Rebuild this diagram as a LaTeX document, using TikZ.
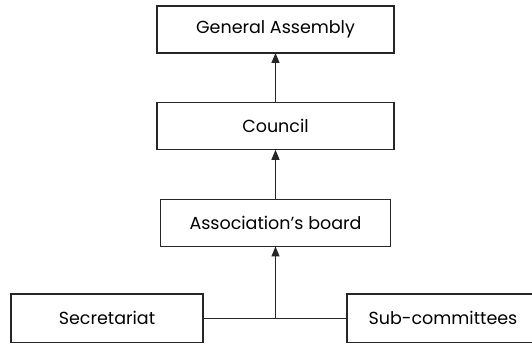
\documentclass[tikz,border=0pt]{standalone}
\usepackage{fontspec}
\setmainfont{Poppins}
\usetikzlibrary{arrows.meta}
\definecolor{ink}{HTML}{262626}
\tikzset{
  orgbox/.style={draw=ink, line width=1.3pt, inner sep=0pt, outer sep=0pt,
    minimum height=47pt, text=black, font=\fontsize{17.5}{20}\selectfont},
  link/.style={draw=ink, line width=1.3pt},
  uparrow/.style={link, -{Triangle[length=10pt, width=8pt]}},
}
\begin{document}
\begin{tikzpicture}[x=1pt, y=-1pt]
  \useasboundingbox (0,0) rectangle (532,344);
  \clip (0,0) rectangle (532,344);
  % hierarchy of bodies
  \node[orgbox, minimum width=237pt] (ga)      at (275.5,29.5) {General Assembly};
  \node[orgbox, minimum width=237pt] (council) at (275.5,126.3) {Council};
  \node[orgbox, minimum width=230pt] (board)   at (275.5,223)  {Association’s board};
  \node[orgbox, minimum width=192pt, minimum height=48.5pt] (sec) at (107,318.3) {Secretariat};
  \node[orgbox, minimum width=192pt, minimum height=48.5pt] (sub) at (443,318.3) {Sub-committees};
  % junction below the board
  \coordinate (j) at (sec.east -| board.south);
  \draw[link] (sec.east) -- (sub.west);
  \draw[uparrow] (j) -- (board.south);
  \draw[uparrow] (board.north) -- (council.south);
  \draw[uparrow] (council.north) -- (ga.south);
\end{tikzpicture}
\end{document}
